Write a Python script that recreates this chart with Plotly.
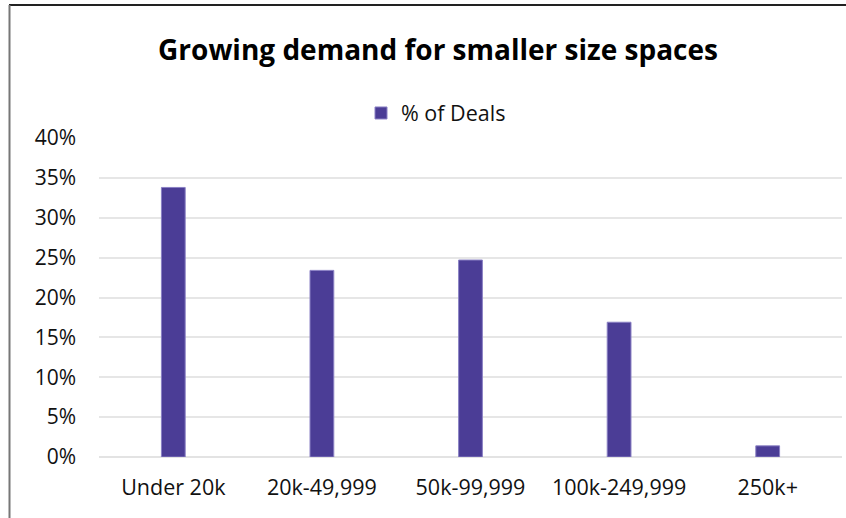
import plotly.graph_objects as go

categories = ["Under 20k", "20k-49,999", "50k-99,999", "100k-249,999", "250k+"]
pct_deals = [0.338, 0.234, 0.247, 0.169, 0.014]
y_ticks = [0, 0.05, 0.10, 0.15, 0.20, 0.25, 0.30, 0.35, 0.40]
y_tick_labels = ["0%", "5%", "10%", "15%", "20%", "25%", "30%", "35%", "40%"]

W, H = 846, 518
L, R, T, B = 99, 4, 138, 61
pw, ph = W - L - R, H - T - B

def px_x(p):
    return (p - L) / pw

def px_y(p):
    return (H - B - p) / ph

fig = go.Figure()
fig.add_trace(go.Bar(
    x=categories, y=pct_deals, name="% of Deals",
    marker=dict(color="#4B3D96", line=dict(color="#8A80C4", width=1)),
    width=0.16,
))

fig.update_layout(
    width=W, height=H,
    margin=dict(l=L, r=R, t=T, b=B),
    paper_bgcolor="white", plot_bgcolor="white",
    font=dict(family="Open Sans", size=21.5, color="#111111"),
    title=dict(text="<b>Growing demand for smaller size spaces</b>",
               x=438 / W, xanchor="center", xref="container",
               y=1 - 50 / H, yanchor="middle", yref="container",
               font=dict(size=28, color="black", family="Open Sans")),
    showlegend=True,
    legend=dict(orientation="h", x=px_x(361), xanchor="left",
                y=px_y(113), yanchor="middle", font=dict(size=21.5),
                bgcolor="rgba(0,0,0,0)"),
    bargap=0.84,
)
fig.update_xaxes(showline=False, ticks="", showgrid=False,
                 tickfont=dict(size=21.5), ticklabelstandoff=15)
fig.update_yaxes(range=[0, 0.40], tickvals=y_ticks, ticktext=y_tick_labels,
                 showgrid=True, gridcolor="#E6E6E6", gridwidth=1.5,
                 zeroline=True, zerolinecolor="#E3E3E3", zerolinewidth=1.5,
                 ticks="", ticklabelstandoff=22, tickfont=dict(size=21))

# chart border (top and left)
fig.add_shape(type="line", xref="paper", yref="paper",
              x0=px_x(9), x1=px_x(846), y0=px_y(5), y1=px_y(5),
              line=dict(color="#222222", width=2))
fig.add_shape(type="line", xref="paper", yref="paper",
              x0=px_x(9.5), x1=px_x(9.5), y0=px_y(5), y1=px_y(518),
              line=dict(color="#777777", width=2))

fig.write_html("out.html")
